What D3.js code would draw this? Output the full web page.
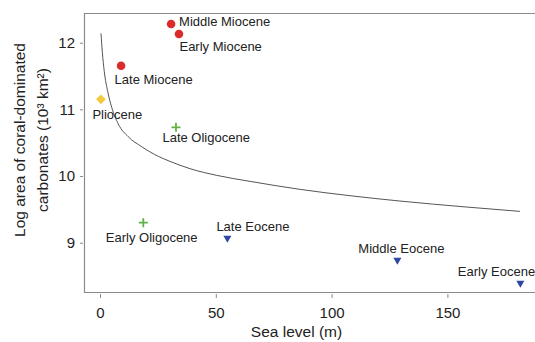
<!DOCTYPE html>
<html>
<head>
<meta charset="utf-8">
<script src="https://cdn.jsdelivr.net/npm/d3@7"></script>
<style>
  html, body { margin: 0; padding: 0; background: #fff; }
  svg { display: block; font-family: "Liberation Sans", Arial, Helvetica, sans-serif; }
</style>
</head>
<body>
<svg id="chart" width="535" height="342"></svg>
<script>
// ---- data ----
const epochs = ["Middle Miocene", "Early Miocene", "Late Miocene", "Pliocene", "Late Oligocene",
                "Early Oligocene", "Late Eocene", "Middle Eocene", "Early Eocene"];
const seaLevel = [30.7, 34.1, 9.1, 0.4, 32.8, 18.7, 55.0, 128.4, 181.5];
const logArea = [12.28, 12.13, 11.655, 11.15, 10.73, 9.30, 9.06, 8.73, 8.385];
const epochGroup = ["Miocene", "Miocene", "Miocene", "Pliocene", "Oligocene",
                    "Oligocene", "Eocene", "Eocene", "Eocene"];
const fitX = [0.43, 0.99, 1.86, 3.32, 5.05, 7.9, 12.2, 18, 25.2, 30.2, 38.9, 50.4, 64.8, 86.4, 107.9, 129.5, 143.9, 158.3, 181.3];
const fitY = [12.14, 11.865, 11.565, 11.27, 11.03, 10.78, 10.59, 10.44, 10.295, 10.22, 10.11, 10.01, 9.92, 9.80, 9.705, 9.625, 9.578, 9.535, 9.47];
const xTicks = [0, 50, 100, 150];
const yTicks = [9, 10, 11, 12];

// ---- styles / layout ----
const groupStyle = {
  Miocene:   { shape: "circle",   color: "#dc2b2b" },
  Pliocene:  { shape: "diamond",  color: "#f5c93c" },
  Oligocene: { shape: "plus",     color: "#5fb346" },
  Eocene:    { shape: "triangle", color: "#2d46a0" }
};
// label offsets (px) relative to the point: [dx of text start, dy of text middle]
const labelOffsets = [[8, -2.5], [0.5, 12.5], [-6.5, 13.5], [-8.5, 15.3], [-13.5, 10],
                      [-37.5, 14.6], [-11, -12.3], [-39, -12.4], [-62.5, -12.7]];

const svg = d3.select("#chart");
const x = d3.scaleLinear().domain([0, 150]).range([100, 447.4]);
const y = d3.scaleLinear().domain([9, 12]).range([242.7, 42.7]);

const L = 84.5, R = 535, T = 13.5, B = 292.5;
const frameColor = "#8a8a8a";

// frame (left, bottom, top)
svg.append("path")
  .attr("d", `M${R},${T}H${L}V${B}H${R}`)
  .attr("fill", "none").attr("stroke", frameColor).attr("stroke-width", 1.2);

// x axis
const xAxis = svg.append("g").attr("transform", `translate(0,${B + 1.5})`)
  .call(d3.axisBottom(x).tickValues(xTicks).tickSize(4).tickPadding(9).tickFormat(d3.format("d")));
xAxis.select(".domain").remove();
xAxis.selectAll("line").attr("stroke", frameColor);
xAxis.selectAll("text").attr("font-size", 15).attr("fill", "#222").attr("font-family", "Liberation Sans, Arial, sans-serif");

// y axis
const yAxis = svg.append("g").attr("transform", `translate(${L - 1.5},0)`)
  .call(d3.axisLeft(y).tickValues(yTicks).tickSize(3).tickPadding(5).tickFormat(d3.format("d")));
yAxis.select(".domain").remove();
yAxis.selectAll("line").attr("stroke", frameColor);
yAxis.selectAll("text").attr("font-size", 15).attr("fill", "#222").attr("font-family", "Liberation Sans, Arial, sans-serif");

// axis titles
svg.append("text").attr("x", 296.5).attr("y", 337).attr("text-anchor", "middle")
  .attr("font-size", 15.5).attr("fill", "#222").text("Sea level (m)");

const yt = svg.append("text").attr("transform", "translate(0,140) rotate(-90)")
  .attr("text-anchor", "middle").attr("font-size", 15.5).attr("fill", "#222");
yt.append("tspan").attr("x", 0).attr("y", 25).text("Log area of coral-dominated");
yt.append("tspan").attr("x", 0).attr("y", 47.5).text("carbonates (10³ km²)");

// fitted curve
const fit = fitX.map((d, i) => [d, fitY[i]]);
svg.append("path")
  .datum(fit)
  .attr("d", d3.line().x(d => x(d[0])).y(d => y(d[1])).curve(d3.curveMonotoneX))
  .attr("fill", "none").attr("stroke", "#555").attr("stroke-width", 1);

// points
const pts = epochs.map((e, i) => ({ name: e, sx: seaLevel[i], ly: logArea[i], g: epochGroup[i], off: labelOffsets[i] }));
const gp = svg.append("g");
pts.forEach(p => {
  const st = groupStyle[p.g];
  const cx = x(p.sx), cy = y(p.ly);
  if (st.shape === "circle") {
    gp.append("circle").attr("cx", cx).attr("cy", cy).attr("r", 4.3).attr("fill", st.color);
  } else if (st.shape === "diamond") {
    gp.append("path").attr("d", `M${cx},${cy - 4.8}L${cx + 4.8},${cy}L${cx},${cy + 4.8}L${cx - 4.8},${cy}Z`).attr("fill", st.color);
  } else if (st.shape === "plus") {
    gp.append("path").attr("d", `M${cx - 4.5},${cy}H${cx + 4.5}M${cx},${cy - 4.5}V${cy + 4.5}`)
      .attr("stroke", st.color).attr("stroke-width", 1.8).attr("fill", "none");
  } else {
    gp.append("path").attr("d", `M${cx - 4},${cy - 3}L${cx + 4},${cy - 3}L${cx},${cy + 4}Z`).attr("fill", st.color);
  }
  gp.append("text").attr("x", cx + p.off[0]).attr("y", cy + p.off[1]).attr("dy", "0.35em")
    .attr("font-size", 13).attr("fill", "#222").text(p.name);
});
</script>
</body>
</html>
